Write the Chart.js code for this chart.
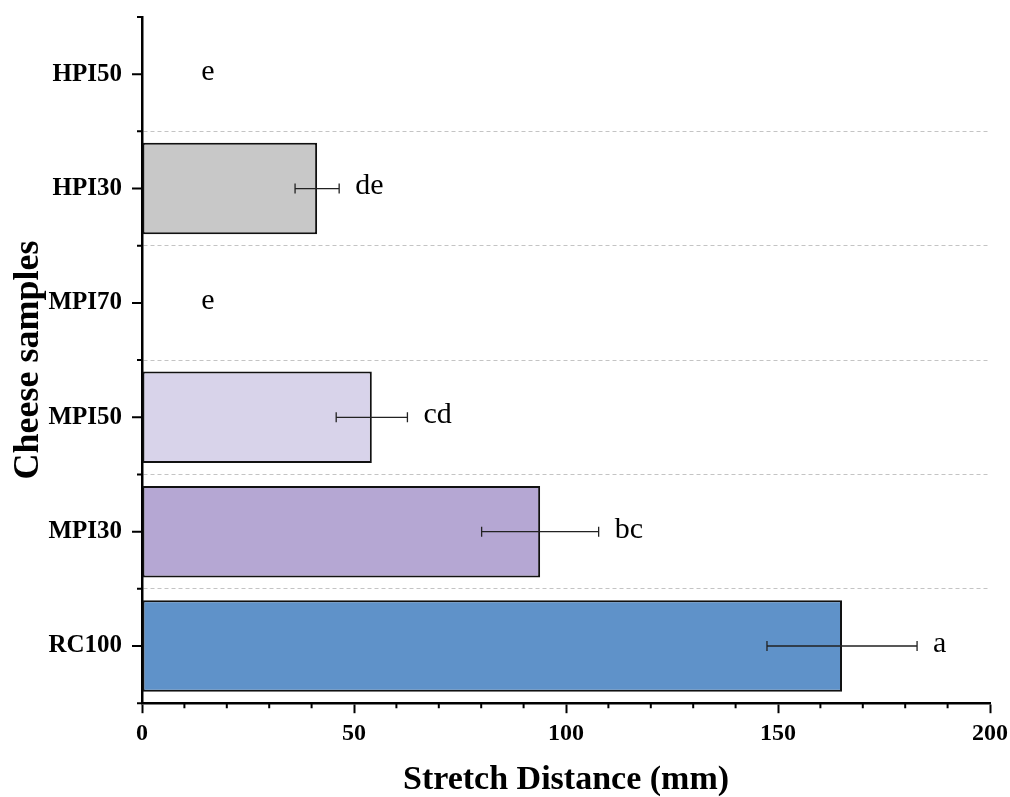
<!DOCTYPE html>
<html>
<head>
<meta charset="utf-8">
<script src="https://cdn.jsdelivr.net/npm/chart.js@4"></script>
<style>
  html, body { margin: 0; padding: 0; background: #fff; }
  #wrap { width: 1010px; height: 797px; }
</style>
</head>
<body>
<div id="wrap"><canvas id="chart"></canvas></div>
<script>
// data
const samples = ['RC100', 'MPI30', 'MPI50', 'MPI70', 'HPI30', 'HPI50'];
const stretch = [165.1, 93.9, 54.2, 0, 41.3, 0];
const stretchSd = [17.7, 13.8, 8.4, 0, 5.2, 0];
const letters = ['a', 'bc', 'cd', 'e', 'de', 'e'];
const barColors = ['#5f92c9', '#b5a7d3', '#d8d3ea', '#d8d3ea', '#c8c8c8', '#c8c8c8'];
const xTicks = [0, 50, 100, 150, 200];

const serif = '"Liberation Serif", "Times New Roman", serif';

// error bars, significance letters and the axis tick marks
const extras = {
  id: 'extras',
  afterDatasetsDraw(chart) {
    const ctx = chart.ctx;
    const x = chart.scales.x, y = chart.scales.y;
    ctx.save();
    stretch.forEach((v, i) => {
      const yc = y.getPixelForValue(i);
      const sd = stretchSd[i];
      if (sd > 0) {
        const x1 = x.getPixelForValue(v - sd), x2 = x.getPixelForValue(v + sd);
        ctx.strokeStyle = '#222';
        ctx.lineWidth = 1.3;
        ctx.beginPath();
        ctx.moveTo(x1, yc); ctx.lineTo(x2, yc);
        ctx.moveTo(x1, yc - 5); ctx.lineTo(x1, yc + 5);
        ctx.moveTo(x2, yc - 5); ctx.lineTo(x2, yc + 5);
        ctx.stroke();
      }
      // empty bars get their letter a bit further out
      let lx = x.getPixelForValue(v + sd) + 16;
      if (v === 0) lx = x.getPixelForValue(14);
      ctx.fillStyle = '#000';
      ctx.font = '30px ' + serif;
      ctx.textAlign = 'left';
      ctx.textBaseline = 'middle';
      ctx.fillText(letters[i], lx, yc - 2);
    });
    ctx.restore();
  },
  afterDraw(chart) {
    const ctx = chart.ctx;
    const x = chart.scales.x, y = chart.scales.y;
    const area = chart.chartArea;
    ctx.save();
    ctx.strokeStyle = '#000';
    ctx.lineWidth = 2;
    ctx.beginPath();
    // y major ticks at categories, minor at boundaries
    samples.forEach((s, i) => {
      const yc = y.getPixelForValue(i);
      ctx.moveTo(area.left - 10, yc); ctx.lineTo(area.left, yc);
    });
    const step = (area.bottom - area.top) / samples.length;
    for (let k = 0; k <= samples.length; k++) {
      const yy = area.top + k * step;
      ctx.moveTo(area.left - 5, yy); ctx.lineTo(area.left, yy);
    }
    // x minor ticks
    for (let v = 10; v < 200; v += 10) {
      if (v % 50 === 0) continue;
      const xx = x.getPixelForValue(v);
      ctx.moveTo(xx, area.bottom); ctx.lineTo(xx, area.bottom + 5);
    }
    ctx.stroke();
    ctx.restore();
  }
};

new Chart(document.getElementById('chart'), {
  type: 'bar',
  data: {
    labels: samples,
    datasets: [{
      label: 'Stretch Distance',
      data: stretch,
      backgroundColor: barColors,
      borderColor: '#111',
      borderWidth: 2,
      borderSkipped: false,
      categoryPercentage: 1,
      barPercentage: 0.8
    }]
  },
  options: {
    indexAxis: 'y',
    responsive: true,
    maintainAspectRatio: false,
    animation: false,
    layout: { padding: { top: 17, right: 0, left: 11, bottom: 0 } },
    plugins: { legend: { display: false }, tooltip: { enabled: false } },
    scales: {
      x: {
        min: 0,
        max: 200,
        afterBuildTicks: (axis) => { axis.ticks = xTicks.map(v => ({ value: v })); },
        afterFit: (s) => { s.paddingRight = 20; },
        grid: { drawOnChartArea: false, tickLength: 10, tickWidth: 2, tickColor: '#000' },
        border: { display: true, color: '#000', width: 2.5 },
        ticks: { color: '#000', padding: 6, maxRotation: 0, font: { family: serif, size: 24, weight: 'bold' } },
        title: {
          display: true,
          text: 'Stretch Distance (mm)',
          color: '#000',
          padding: { top: 9, bottom: 0 },
          font: { family: serif, size: 34, weight: 'bold', lineHeight: 1 }
        }
      },
      y: {
        reverse: true,
        afterFit: (s) => { s.paddingTop = 0; s.paddingBottom = 0; s.width = 131; },
        grid: {
          offset: true,
          drawTicks: false,
          lineWidth: 1,
          color: (c) => (c.index === 0 || c.index === undefined || c.index >= samples.length) ? 'rgba(0,0,0,0)' : '#c4c4c4'
        },
        border: { display: true, color: '#000', width: 2.5, dash: [4, 3] },
        ticks: { color: '#000', padding: 20, font: { family: serif, size: 25, weight: 'bold' } },
        title: {
          display: true,
          text: 'Cheese samples',
          color: '#000',
          padding: { top: 0, bottom: 0 },
          font: { family: serif, size: 36, weight: 'bold', lineHeight: 1 }
        }
      }
    }
  },
  plugins: [extras]
});
</script>
</body>
</html>
